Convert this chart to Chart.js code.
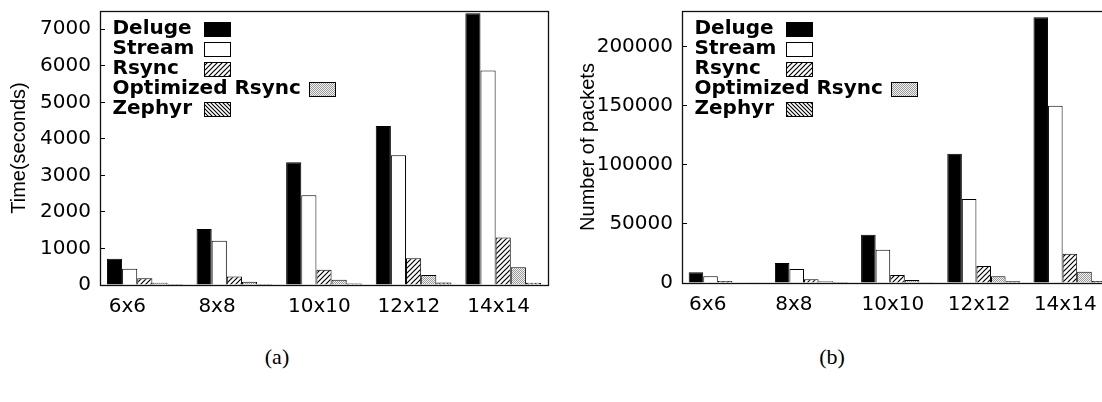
<!DOCTYPE html>
<html>
<head>
<meta charset="utf-8">
<script src="https://cdn.jsdelivr.net/npm/chart.js@4.4.0/dist/chart.umd.min.js"></script>
<style>
  html, body { margin: 0; padding: 0; background: #fff; overflow: hidden; width: 1102px; height: 402px; }
  #wrap { position: relative; width: 1102px; height: 402px; overflow: hidden; }
  #timeChart { position: absolute; left: 0; top: 0; }
  #packetChart { position: absolute; left: 580px; top: 0; }
  .cap { position: absolute; top: 344px; font-family: "Liberation Serif", "DejaVu Serif", serif; font-size: 22px; line-height: 26px; color: #000; transform: translateX(-50%); }
</style>
</head>
<body>
<div id="wrap">
  <canvas id="timeChart" width="560" height="330"></canvas>
  <canvas id="packetChart" width="545" height="330"></canvas>
  <div class="cap" style="left:277px">(a)</div>
  <div class="cap" style="left:832px">(b)</div>
</div>
<script>
// Grid sizes on the x axis
const categories = ['6x6', '8x8', '10x10', '12x12', '14x14'];
const seriesNames = ['Deluge', 'Stream', 'Rsync', 'Optimized Rsync', 'Zephyr'];

// (a) completion time, seconds
const timeDeluge    = [720, 1530, 3360, 4350, 7440];
const timeStream    = [445, 1210, 2455, 3550, 5870];
const timeRsync     = [185, 230, 420, 735, 1300];
const timeOptRsync  = [65, 90, 145, 275, 485];
const timeZephyr    = [28, 25, 40, 70, 65];
const timeTicks     = [0, 1000, 2000, 3000, 4000, 5000, 6000, 7000];

// (b) number of packets
const pktDeluge     = [9000, 16900, 40900, 109300, 224800];
const pktStream     = [5660, 11800, 28200, 71000, 149900];
const pktRsync      = [1700, 3100, 6800, 14400, 24800];
const pktOptRsync   = [400, 1500, 2500, 5700, 9600];
const pktZephyr     = [200, 900, 300, 1400, 1700];
const pktTicks      = [0, 50000, 100000, 150000, 200000];

// Fill patterns in the style of a monochrome plot
function makeTile(size, draw) {
  const c = document.createElement('canvas');
  c.width = size; c.height = size;
  const g = c.getContext('2d');
  draw(g, size);
  return g.createPattern(c, 'repeat');
}
const hatchForward = makeTile(5, (g, p) => {
  g.fillStyle = '#fff'; g.fillRect(0, 0, p, p);
  g.strokeStyle = '#000'; g.lineWidth = 1.2;
  g.beginPath();
  g.moveTo(-1, p + 1); g.lineTo(p + 1, -1);
  g.moveTo(-1, 1); g.lineTo(1, -1);
  g.moveTo(p - 1, p + 1); g.lineTo(p + 1, p - 1);
  g.stroke();
});
const hatchBack = makeTile(4, (g, p) => {
  g.fillStyle = '#fff'; g.fillRect(0, 0, p, p);
  g.strokeStyle = '#000'; g.lineWidth = 1.1;
  g.beginPath();
  g.moveTo(-1, -1); g.lineTo(p + 1, p + 1);
  g.moveTo(p - 1, -1); g.lineTo(p + 1, 1);
  g.moveTo(-1, p - 1); g.lineTo(1, p + 1);
  g.stroke();
});
const stipple = makeTile(2, (g) => {
  g.fillStyle = '#f2f2f2'; g.fillRect(0, 0, 2, 2);
  g.fillStyle = '#9a9a9a'; g.fillRect(0, 0, 1, 1); g.fillRect(1, 1, 1, 1);
});
const fills = ['#000', '#fff', hatchForward, stipple, hatchBack];

function buildDatasets(series) {
  return series.map((values, i) => ({
    label: seriesNames[i],
    data: values,
    backgroundColor: fills[i],
    borderColor: '#000',
    borderWidth: 1,
    barPercentage: 1.0,
    categoryPercentage: 0.845
  }));
}

// Frame round the plot area
const frame = {
  id: 'frame',
  afterDatasetsDraw(chart) {
    const { ctx, chartArea: a } = chart;
    ctx.save();
    ctx.strokeStyle = '#111';
    ctx.lineWidth = 1.3;
    ctx.strokeRect(Math.round(a.left) + 0.5, Math.round(a.top) + 0.5,
                   Math.round(a.right - a.left), Math.round(a.bottom - a.top));
    ctx.restore();
  }
};

// Key: label first, sample box to its right
const boxKey = {
  id: 'boxKey',
  afterDraw(chart) {
    const { ctx, chartArea: a } = chart;
    ctx.save();
    ctx.font = 'bold 20px "DejaVu Sans"';
    ctx.textAlign = 'left';
    ctx.textBaseline = 'alphabetic';
    chart.data.datasets.forEach((ds, i) => {
      const x = a.left + 12.5;
      const y = a.top + 23 + i * 20;
      ctx.fillStyle = '#000';
      ctx.fillText(ds.label, x, y);
      const w = ctx.measureText(ds.label).width;
      const bx = Math.round(Math.max(a.left + 103.5, x + w + 8));
      const by = Math.round(y - 12);
      ctx.fillStyle = ds.backgroundColor;
      ctx.fillRect(bx, by, 26, 14);
      ctx.strokeStyle = '#000';
      ctx.lineWidth = 1;
      ctx.strokeRect(bx + 0.5, by + 0.5, 26, 14);
    });
    ctx.restore();
  }
};

function makeChart(id, series, yMax, tickValues, yTitle, yWidth, titlePad, xHeight) {
  return new Chart(document.getElementById(id), {
    type: 'bar',
    data: { labels: categories, datasets: buildDatasets(series) },
    plugins: [frame, boxKey],
    options: {
      responsive: false,
      animation: false,
      devicePixelRatio: 1,
      layout: { padding: { top: 11, right: 12, left: 0, bottom: 0 } },
      plugins: { legend: { display: false }, tooltip: { enabled: false } },
      scales: {
        x: {
          grid: { display: false },
          border: { display: false },
          afterFit: s => {
            s.height = xHeight;
            s.paddingLeft = 0; s.paddingRight = 0;
          },
          ticks: {
            font: { family: 'DejaVu Sans', size: 20 },
            color: '#000',
            align: 'start',
            labelOffset: -36,
            padding: 2,
            maxRotation: 0,
            autoSkip: false
          }
        },
        y: {
          min: 0,
          max: yMax,
          afterBuildTicks: s => { s.ticks = tickValues.map(v => ({ value: v })); },
          afterFit: s => {
            s.width = yWidth;
            s.paddingTop = 0; s.paddingBottom = 0;
          },
          grid: { drawOnChartArea: false, drawTicks: true, tickLength: -5, color: '#000', lineWidth: 1 },
          border: { display: false },
          ticks: {
            font: { family: 'DejaVu Sans', size: 20 },
            color: '#000',
            padding: 14,
            callback: v => String(v)
          },
          title: {
            display: true,
            text: yTitle,
            color: '#000',
            font: { family: 'Liberation Sans', size: 20 },
            padding: { top: titlePad, bottom: 0 }
          }
        }
      }
    }
  });
}

makeChart('timeChart',
  [timeDeluge, timeStream, timeRsync, timeOptRsync, timeZephyr],
  7500, timeTicks, 'Time(seconds)', 100, 7, 45);

makeChart('packetChart',
  [pktDeluge, pktStream, pktRsync, pktOptRsync, pktZephyr],
  230000, pktTicks, 'Number of packets', 102, -4, 47);
</script>
</body>
</html>
